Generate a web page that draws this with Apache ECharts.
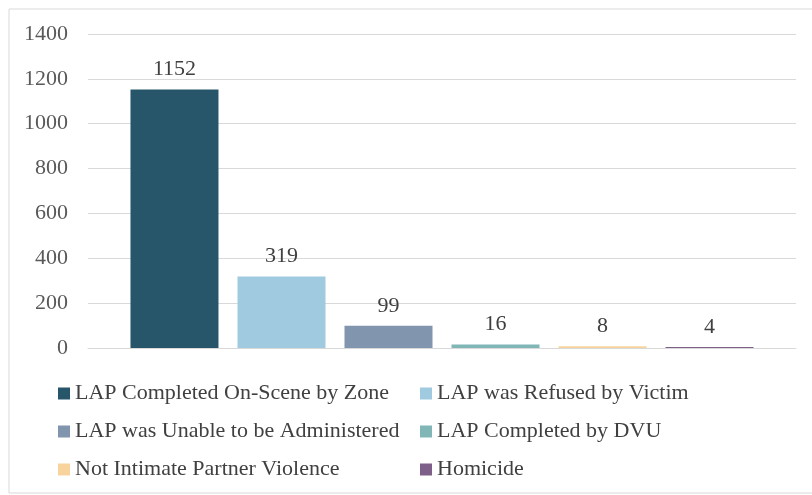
<!DOCTYPE html>
<html>
<head>
<meta charset="utf-8">
<script src="https://cdn.jsdelivr.net/npm/echarts@6/dist/echarts.min.js"></script>
<style>
  html, body { margin: 0; padding: 0; background: #fff; }
  #chart { width: 812px; height: 495px; }
</style>
</head>
<body>
<div id="chart"></div>
<script>
// 数据区
var seriesNames = ['LAP Completed On-Scene by Zone', 'LAP was Refused by Victim',
  'LAP was Unable to be Administered', 'LAP Completed by DVU',
  'Not Intimate Partner Violence', 'Homicide'];
var seriesValues = [1152, 319, 99, 16, 8, 4];
var seriesColors = ['#27566b', '#a0cadf', '#8195ae', '#80b6b6', '#f8d49c', '#7e5f8a'];
var yTicks = [0, 200, 400, 600, 800, 1000, 1200, 1400];

var myChart = echarts.init(document.getElementById('chart'));

var fontFam = '"Liberation Serif", "DejaVu Serif", serif';

// 每个类别一个系列，图例按系列显示
var series = [];
for (var i = 0; i < seriesNames.length; i++) {
  series.push({
    name: seriesNames[i],
    type: 'bar',
    data: [seriesValues[i]],
    barWidth: 88,
    barGap: '21.6%',
    itemStyle: { color: seriesColors[i] },
    label: {
      show: true,
      position: 'top',
      distance: 9,
      color: '#404040',
      fontFamily: fontFam,
      fontSize: 22
    }
  });
}

var legendText = { color: '#404040', fontFamily: fontFam, fontSize: 22, lineHeight: 25 };

myChart.setOption({
  animation: false,
  grid: { left: 88, right: 16, top: 34, bottom: 147 },
  xAxis: {
    type: 'category',
    data: [''],
    axisLine: { lineStyle: { color: '#d9d9d9' } },
    axisTick: { show: false },
    axisLabel: { show: false }
  },
  yAxis: {
    type: 'value',
    min: yTicks[0],
    max: yTicks[yTicks.length - 1],
    interval: yTicks[1] - yTicks[0],
    axisLabel: {
      color: '#595959', fontFamily: fontFam, fontSize: 22, margin: 20,
      formatter: function (v) { return String(v); }
    },
    splitLine: { lineStyle: { color: '#d9d9d9', width: 1 } },
    axisLine: { show: false },
    axisTick: { show: false }
  },
  legend: [
    {
      orient: 'vertical', left: 58, top: 381, padding: 0, itemWidth: 12, itemHeight: 12,
      itemGap: 13, icon: 'rect', textStyle: legendText,
      data: [seriesNames[0], seriesNames[2], seriesNames[4]]
    },
    {
      orient: 'vertical', left: 420, top: 381, padding: 0, itemWidth: 12, itemHeight: 12,
      itemGap: 13, icon: 'rect', textStyle: legendText,
      data: [seriesNames[1], seriesNames[3], seriesNames[5]]
    }
  ],
  graphic: [{
    type: 'rect',
    shape: { x: 9, y: 9, width: 820, height: 484 },
    style: { fill: 'none', stroke: '#d9d9d9', lineWidth: 1 },
    silent: true
  }],
  series: series
});
</script>
</body>
</html>
